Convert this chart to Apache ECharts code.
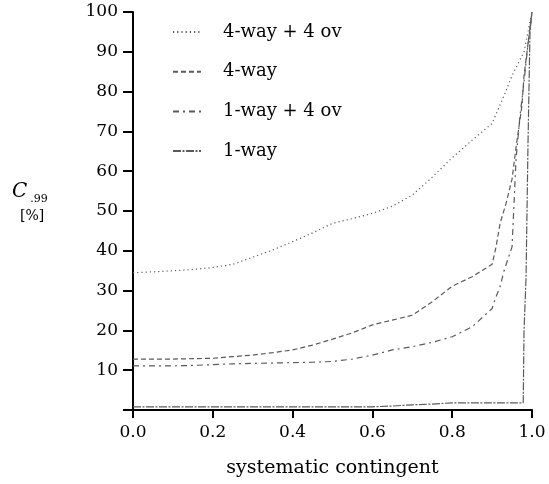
<!DOCTYPE html>
<html>
<head>
<meta charset="utf-8">
<script src="https://cdn.jsdelivr.net/npm/echarts@6/dist/echarts.min.js"></script>
<style>
html, body { margin: 0; padding: 0; background: #fff; }
#chart { width: 549px; height: 484px; }
</style>
</head>
<body>
<div id="chart"></div>
<script>
// systematic contingent vs C.99 [%]
const xTicks = [0, 0.2, 0.4, 0.6, 0.8, 1.0];
const yTicks = [10, 20, 30, 40, 50, 60, 70, 80, 90, 100];

const way4ov4X = [0, 0.05, 0.1, 0.15, 0.2, 0.25, 0.3, 0.35, 0.4, 0.45, 0.5, 0.55, 0.6, 0.65, 0.7, 0.75, 0.8, 0.85, 0.9, 0.93, 0.95, 0.98, 0.99, 1.0];
const way4ov4Y = [34.5, 34.7, 35.0, 35.3, 35.8, 36.6, 38.4, 40.2, 42.3, 44.5, 46.9, 48.1, 49.4, 51.2, 54.0, 58.5, 63.4, 67.8, 72.0, 79.0, 84.0, 90.0, 95.0, 100];

const way4X = [0, 0.05, 0.1, 0.15, 0.2, 0.25, 0.3, 0.35, 0.4, 0.45, 0.5, 0.55, 0.6, 0.65, 0.7, 0.75, 0.8, 0.85, 0.9, 0.91, 0.92, 0.935, 0.95, 0.96, 0.975, 0.98, 0.99, 1.0];
const way4Y = [12.8, 12.8, 12.8, 12.9, 13.0, 13.4, 13.8, 14.4, 15.1, 16.3, 17.8, 19.4, 21.4, 22.6, 23.8, 27.2, 31.1, 33.5, 36.6, 41.0, 46.9, 51.9, 58.0, 66.0, 76.6, 84.0, 92.0, 100];

const way1ov4X = [0, 0.05, 0.1, 0.15, 0.2, 0.25, 0.3, 0.35, 0.4, 0.45, 0.5, 0.55, 0.6, 0.65, 0.7, 0.75, 0.8, 0.85, 0.9, 0.91, 0.92, 0.93, 0.95, 0.955, 0.96, 0.97, 0.98, 0.99, 1.0];
const way1ov4Y = [11.1, 11.1, 11.1, 11.2, 11.4, 11.6, 11.7, 11.8, 11.9, 12.0, 12.2, 12.8, 13.8, 15.1, 15.9, 17.0, 18.4, 20.9, 25.5, 28.5, 31.0, 35.0, 41.0, 52.0, 63.0, 74.0, 82.5, 92.0, 100];

const way1X = [0, 0.1, 0.2, 0.3, 0.4, 0.5, 0.6, 0.65, 0.7, 0.75, 0.8, 0.85, 0.9, 0.95, 0.978, 0.98, 0.985, 0.99, 0.995, 1.0];
const way1Y = [0.8, 0.8, 0.8, 0.8, 0.8, 0.8, 0.8, 1.0, 1.3, 1.5, 1.8, 1.8, 1.8, 1.8, 1.8, 20.0, 33.0, 67.0, 95.0, 100];

const names = ['4-way + 4 ov', '4-way', '1-way + 4 ov', '1-way'];

function pairs(xs, ys) {
  return xs.map(function (x, i) { return [x, ys[i]]; });
}

const serifFont = '"DejaVu Serif", serif';
const lineColor = '#5a5a5a';

function mkSeries(name, xs, ys, dash, width) {
  return {
    name: name,
    type: 'line',
    data: pairs(xs, ys),
    showSymbol: false,
    symbol: 'none',
    animation: false,
    lineStyle: { color: lineColor, width: width || 1.2, type: dash },
    itemStyle: { color: lineColor },
  };
}

const chart = echarts.init(document.getElementById('chart'), null, { renderer: 'canvas' });
chart.setOption({
  backgroundColor: '#fff',
  animation: false,
  textStyle: { fontFamily: serifFont },
  grid: { left: 133, right: 17, top: 12, bottom: 74 },
  legend: {
    orient: 'vertical',
    left: 167,
    top: 17,
    itemWidth: 28,
    itemHeight: 14,
    itemGap: 19.7,
    itemStyle: { opacity: 0 },
    textStyle: { fontFamily: serifFont, fontSize: 18, lineHeight: 20, color: '#000', padding: [0, 0, 0, 17] },
    data: names,
  },
  xAxis: {
    type: 'value',
    min: 0,
    max: 1,
    interval: 0.2,
    name: 'systematic contingent',
    nameLocation: 'middle',
    nameGap: 49,
    nameTextStyle: { fontFamily: serifFont, fontSize: 19, color: '#000' },
    axisLine: { lineStyle: { color: '#000', width: 2 } },
    axisTick: { inside: false, length: 8, lineStyle: { color: '#000', width: 2 } },
    axisLabel: {
      color: '#000', fontFamily: serifFont, fontSize: 17, margin: 14,
      formatter: function (v) { return xTicks.indexOf(Math.round(v * 10) / 10) >= 0 ? v.toFixed(1) : ''; },
    },
    splitLine: { show: false },
  },
  yAxis: {
    type: 'value',
    min: 0,
    max: 100,
    interval: 10,
    axisLine: { show: true, lineStyle: { color: '#000', width: 2 } },
    axisTick: { inside: false, length: 10, lineStyle: { color: '#000', width: 2 } },
    axisLabel: {
      color: '#000', fontFamily: serifFont, fontSize: 17, margin: 15,
      formatter: function (v) { return yTicks.indexOf(v) >= 0 ? String(v) : ''; },
    },
    splitLine: { show: false },
  },
  graphic: [
    {
      type: 'text', left: 12, top: 182,
      style: {
        text: '{c|C}{s|.99}',
        rich: {
          c: { fontFamily: serifFont, fontStyle: 'italic', fontSize: 20, fill: '#000' },
          s: { fontFamily: serifFont, fontSize: 11, fill: '#000', padding: [14, 0, 0, 3] },
        },
      },
    },
    {
      type: 'text', left: 20, top: 209,
      style: { text: '[%]', fontFamily: serifFont, fontSize: 14, fill: '#000' },
    },
  ],
  series: [
    mkSeries(names[0], way4ov4X, way4ov4Y, [1.2, 3]),
    mkSeries(names[1], way4X, way4Y, [5, 3]),
    mkSeries(names[2], way1ov4X, way1ov4Y, [6, 4, 2, 4]),
    mkSeries(names[3], way1X, way1Y, [8, 1.5, 2, 1.5]),
  ],
});
</script>
</body>
</html>
